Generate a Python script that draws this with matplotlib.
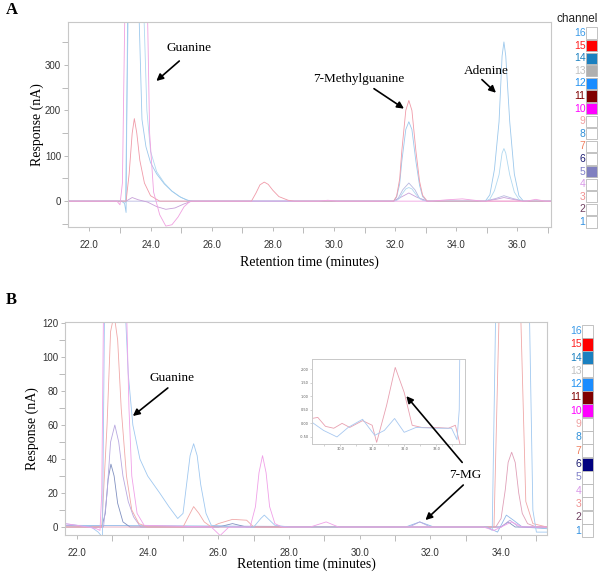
import numpy as np
import matplotlib
matplotlib.use('Agg')
import matplotlib.pyplot as plt
from matplotlib.patches import Rectangle

# ---- Panel A traces (retention time, response nA) ----
a_mag_t = [21.3, 22.9, 23.0, 23.08, 23.16, 23.9, 23.97, 24.1, 24.3, 24.5, 24.7, 24.9, 25.1, 25.3,
           29.5, 29.8, 30.1, 33.2, 33.7, 34.2, 34.85, 36.3, 36.6, 36.9, 37.1]
a_mag_y = [0, 0, -8, 40, 420, 420, 150, 20, -30, -55, -52, -35, -12, 0,
           0, 2, 0, 0, 3, 5, 0, 0, 4, 0, 0]

a_red_t = [21.3, 23.2, 23.3, 23.4, 23.47, 23.55, 23.65, 23.8, 24.0, 24.3,
           27.3, 27.45, 27.58, 27.72, 27.85, 28.0, 28.2, 28.5, 28.7,
           31.95, 32.05, 32.15, 32.22, 32.35, 32.45, 32.55, 32.68, 32.8, 32.9, 33.05, 37.1]
a_red_y = [0, 0, 60, 150, 182, 150, 90, 40, 12, 0,
           0, 18, 36, 42, 37, 24, 10, 2, 0,
           0, 11, 49, 111, 200, 222, 200, 111, 44, 13, 0, 0]

a_blue1_t = [21.3, 23.05, 23.15, 23.2, 23.25, 23.62, 23.72, 23.85, 24.0, 24.2, 24.45, 24.7, 24.95, 25.2, 25.4,
             31.95, 32.05, 32.15, 32.22, 32.35, 32.45, 32.55, 32.68, 32.8, 32.9, 33.05,
             34.95, 35.1, 35.25, 35.4, 35.5, 35.56, 35.62, 35.75, 35.9, 36.05, 36.2, 37.1]
a_blue1_y = [0, 0, -5, -25, 420, 420, 180, 120, 85, 60, 38, 22, 10, 2, 0,
             0, 9, 38, 88, 158, 175, 158, 88, 35, 10, 0,
             0, 14, 70, 175, 320, 351, 320, 175, 60, 12, 0, 0]

a_blue2_t = [21.3, 23.1, 23.18, 23.27, 23.78, 23.88, 24.0, 24.2, 24.45, 24.7, 25.0, 25.3,
             31.95, 32.05, 32.15, 32.22, 32.35, 32.45, 32.55, 32.68, 32.8, 32.9, 33.05,
             34.95, 35.1, 35.25, 35.4, 35.5, 35.56, 35.62, 35.75, 35.9, 36.05, 36.2, 37.1]
a_blue2_y = [0, 0, -3, 420, 420, 200, 110, 65, 40, 22, 8, 0,
             0, 1.5, 6.6, 15, 27, 30, 27, 15, 6, 1.8, 0,
             0, 4.6, 23, 58, 106, 116, 106, 58, 20, 4, 0, 0]

a_purp_t = [21.3, 23.2, 23.4, 23.6, 23.9, 24.2, 24.5, 24.8, 25.1, 25.35,
            31.95, 32.2, 32.45, 32.7, 33.05, 34.95, 35.3, 35.56, 35.85, 36.2, 37.1]
a_purp_y = [0, 0, 8, 3, -2, -12, -18, -15, -6, 0,
            0, 9, 18, 9, 0, 0, 4, 8, 4, 0, 0]

a_lav_t = [21.3, 31.95, 32.1, 32.25, 32.45, 32.65, 32.8, 33.05, 34.95, 35.3, 35.56, 35.85, 36.2, 37.1]
a_lav_y = [0, 0, 6, 25, 40, 25, 6, 0, 0, 6, 12, 6, 0, 0]

# ---- Panel B traces ----
b_mag_t = [21.66, 22.0, 22.3, 22.55, 22.65, 22.7, 22.75, 23.4, 23.47, 23.55, 23.7, 23.9,
           25.8, 26.05, 26.3, 26.9, 27.05, 27.15, 27.25, 27.35, 27.45, 27.6, 27.8,
           28.6, 29.05, 29.4, 30.5, 33.5, 33.8, 34.1, 34.3, 34.6, 35.3]
b_mag_y = [2, 1, 0, -1, -2, 20, 130, 130, 70, 30, 8, 1,
           0, -5, 0, 0, 12, 32, 42, 32, 12, 2, 0,
           0, 3, 0, 0, 0, -2, 1, 3, 0, 0]

b_blue_t = [21.66, 22.0, 22.4, 22.6, 22.72, 22.78, 23.36, 23.45, 23.58, 23.78, 24.0, 24.34, 24.6, 24.85,
            25.0, 25.1, 25.2, 25.3, 25.4, 25.5, 25.65, 25.8, 26.5, 27.0, 27.2, 27.3, 27.4, 27.6, 28.0,
            33.6, 33.75, 33.85, 34.8, 34.9, 35.0, 35.3]
b_blue_y = [2, 1, 0, -3, -6, 130, 130, 90, 60, 40, 30, 20, 12, 5,
            8, 25, 42, 49, 42, 25, 8, 1, 0, 0, 5, 7, 5, 1, 0,
            0, -2, 130, 130, 10, -3, -3]

b_red_t = [21.66, 22.7, 22.85, 22.95, 23.05, 23.15, 23.25, 23.4, 23.55, 23.75, 24.0,
           25.0, 25.15, 25.3, 25.45, 25.6, 25.8, 26.0, 26.4, 26.8, 27.0, 28.0,
           33.8, 33.95, 34.55, 34.7, 34.9, 35.3]
b_red_y = [0, 0, 60, 115, 125, 110, 70, 30, 10, 2, 0,
           0, 6, 12, 8, 3, 0, 2, 4.5, 4, 0, 0,
           0, 130, 130, 15, 2, 0]

b_lav_t = [21.66, 22.5, 22.75, 22.85, 22.95, 23.07, 23.18, 23.3, 23.45, 23.6, 23.8,
           31.4, 31.7, 32.0, 34.0, 34.25, 34.5, 35.3]
b_lav_y = [1, 0, 0, 20, 50, 60, 50, 30, 15, 6, 0,
           0, 3, 0, 0, 4, 0, 0]

b_dark_t = [21.66, 22.7, 22.8, 22.88, 22.96, 23.05, 23.15, 23.3, 23.5, 26.0, 26.4, 26.8,
            34.0, 34.2, 34.4, 35.3]
b_dark_y = [0, 0, 8, 28, 37, 30, 14, 3, 0, 0, 2, 0,
            0, 3, 0, 0]

b_pink_t = [21.66, 33.85, 34.0, 34.12, 34.2, 34.3, 34.4, 34.5, 34.6, 34.75, 35.0, 35.3]
b_pink_y = [0, 0, 5, 22, 38, 44, 38, 20, 8, 2, 0, 0]

b_blue2_t = [21.66, 31.3, 31.7, 32.1, 33.6, 33.9, 34.15, 34.35, 34.6, 35.3]
b_blue2_y = [1, 0, 3, 0, 0, -3, 7, 4, 0, -1]

# ---- Inset (zoom of 7-MG region, panel B) ----
in_red_t = [29.12, 29.3, 29.54, 29.8, 30.06, 30.3, 30.7, 31.0, 31.14, 31.45, 31.72, 32.0, 32.25,
            32.55, 33.0, 33.38, 33.6, 33.75]
in_red_y = [0.18, 0.22, -0.11, -0.18, 0.0, -0.15, 0.1, -0.07, -0.7, 0.66, 2.06, 1.14, -0.07,
            -0.15, -0.15, -0.18, -0.07, -0.8]
in_blue_t = [29.12, 29.48, 29.9, 30.25, 30.7, 31.08, 31.38, 31.7, 32.0, 32.37, 33.0, 33.48, 33.65,
             33.72, 33.74]
in_blue_y = [0.04, -0.26, -0.5, -0.15, 0.15, -0.44, -0.26, 0.18, -0.33, -0.15, -0.18, -0.18, -0.6,
             0.5, 3.0]

# ---- Channel legend ----
channels = list(range(16, 0, -1))
chan_colors = {16: '#3a9ae8', 15: '#ff2020', 14: '#1a80c0', 13: '#c0c0c0', 12: '#2090f0',
               11: '#800000', 10: '#ff00ff', 9: '#f0a0a0', 8: '#3090d8', 7: '#f08060',
               6: '#1a1a70', 5: '#8080c8', 4: '#d898e8', 3: '#f09090', 2: '#704060', 1: '#3090e0'}
fill_a = {15: '#ff0000', 14: '#1a80c0', 13: '#b0b0b0', 12: '#1a8cff', 11: '#800000',
          10: '#ff00ff', 5: '#8080c0'}
fill_b = {15: '#ff0000', 14: '#1a80c0', 12: '#1a8cff', 11: '#800000', 10: '#ff00ff',
          6: '#000080'}

W, H = 600, 573
fig = plt.figure(figsize=(6, 5.73), dpi=100)


def fx(px):
    return px / W


def fy(py):
    return 1 - py / H


serif = 'Liberation Serif'
sans = 'Liberation Sans'
frame = '#c8c8c8'


def style(ax, xmaj, xmin, ymaj, ymin):
    for s in ax.spines.values():
        s.set_color(frame)
        s.set_linewidth(0.8)
    ax.set_xticks(xmaj)
    ax.set_xticklabels(['%.1f' % v for v in xmaj])
    ax.set_xticks(xmin, minor=True)
    ax.set_yticks(ymaj)
    ax.set_yticks(ymin, minor=True)
    ax.tick_params(which='both', direction='out', color='#b0b0b0', labelsize=7,
                   labelcolor='#333333', width=0.6)
    ax.tick_params(which='major', length=3)
    ax.tick_params(axis='x', which='major', pad=6)
    ax.tick_params(axis='y', which='major', pad=2)
    ax.tick_params(which='minor', length=4)
    for lab in ax.get_xticklabels() + ax.get_yticklabels():
        lab.set_family(sans)


lw = 0.6
arr = dict(arrowstyle='-|>', color='black', lw=1.2, mutation_scale=10, shrinkA=0, shrinkB=0)


def arrow(ax, tail, head):
    ax.annotate('', xy=head, xytext=tail, arrowprops=arr)


def label(ax, x, y, s):
    ax.text(x, y, s, ha='center', va='center', family=serif, fontsize=9.5)


# Panel A
axA = fig.add_axes([fx(68), fy(227), fx(551) - fx(68), fy(22) - fy(227)])
axA.plot(a_lav_t, a_lav_y, color='#b8b8e0', lw=lw)
axA.plot(a_purp_t, a_purp_y, color='#c8a0d8', lw=lw)
axA.plot(a_blue2_t, a_blue2_y, color='#b0d8f0', lw=lw)
axA.plot(a_blue1_t, a_blue1_y, color='#9cc8ec', lw=lw)
axA.plot(a_red_t, a_red_y, color='#f09aa8', lw=lw)
axA.plot(a_mag_t, a_mag_y, color='#f0a0e0', lw=lw)
axA.set_xlim(21.3, 37.1)
axA.set_ylim(-57, 395)
style(axA, np.arange(22, 37, 2), np.arange(23, 38, 2), [0, 100, 200, 300], [-50, 50, 150, 250, 350])
axA.set_xlabel('Retention time (minutes)', family=serif, fontsize=10, labelpad=4)
axA.set_ylabel('Response (nA)', family=serif, fontsize=10)
axA.yaxis.set_label_coords(-0.049, 0.5)

label(axA, 25.27, 338, 'Guanine')
arrow(axA, (24.94, 309), (24.19, 265))
label(axA, 30.82, 270, '7-Methylguanine')
arrow(axA, (31.31, 248), (32.29, 204))
label(axA, 34.97, 287, 'Adenine')
arrow(axA, (34.84, 268), (35.3, 239))

# Panel B
axB = fig.add_axes([fx(65), fy(535), fx(547) - fx(65), fy(322) - fy(535)])
axB.plot(b_blue2_t, b_blue2_y, color='#90b8e8', lw=lw)
axB.plot(b_dark_t, b_dark_y, color='#8090c0', lw=lw)
axB.plot(b_lav_t, b_lav_y, color='#b8a8e0', lw=lw)
axB.plot(b_pink_t, b_pink_y, color='#e0a0b8', lw=lw)
axB.plot(b_red_t, b_red_y, color='#f0a8a8', lw=lw)
axB.plot(b_blue_t, b_blue_y, color='#a0c8f0', lw=lw)
axB.plot(b_mag_t, b_mag_y, color='#f0a0e8', lw=lw)
axB.set_xlim(21.66, 35.3)
axB.set_ylim(-4.7, 120.6)
style(axB, np.arange(22, 35, 2), np.arange(23, 36, 2), np.arange(0, 121, 20), np.arange(10, 120, 20))
axB.set_xlabel('Retention time (minutes)', family=serif, fontsize=10, labelpad=0)
axB.set_ylabel('Response (nA)', family=serif, fontsize=10)
axB.yaxis.set_label_coords(-0.054, 0.5)

label(axB, 24.68, 87.6, 'Guanine')
arrow(axB, (24.57, 81.8), (23.58, 65.3))
label(axB, 32.99, 30.6, '7-MG')
arrow(axB, (32.93, 24.7), (31.86, 4.1))

# Inset
axI = fig.add_axes([fx(312), fy(444), fx(465) - fx(312), fy(359) - fy(444)])
axI.patch.set_alpha(0)
axI.plot(in_red_t, in_red_y, color='#e8a0b0', lw=0.6)
axI.plot(in_blue_t, in_blue_y, color='#a8c8f0', lw=0.6)
axI.set_xlim(29.12, 33.9)
axI.set_ylim(-0.76, 2.37)
for s in axI.spines.values():
    s.set_color(frame)
    s.set_linewidth(0.7)
axI.set_xticks([30, 31, 32, 33])
axI.set_xticklabels(['30.0', '31.0', '32.0', '33.0'])
axI.set_xticks([29.5, 30.5, 31.5, 32.5, 33.5], minor=True)
axI.set_yticks([-0.5, 0, 0.5, 1.0, 1.5, 2.0])
axI.set_yticklabels(['-0.50', '0.00', '0.50', '1.00', '1.50', '2.00'])
axI.tick_params(which='both', direction='out', labelsize=2.5, length=1.5, width=0.4,
                color='#b0b0b0', labelcolor='#555555', pad=1)

# arrow from 7-MG label up into the inset peak, drawn above the inset
axI.annotate('', xy=(31.32, 77), xytext=(32.9, 38), xycoords=axB.transData,
             textcoords=axB.transData, arrowprops=arr, annotation_clip=False)

# Panel letters
fig.text(fx(6), fy(10), 'A', family=serif, fontsize=12, fontweight='bold', va='center')
fig.text(fx(6), fy(300), 'B', family=serif, fontsize=12, fontweight='bold', va='center')


# Channel legends
def legend(y_top, step, box_x, box_w, box_h, fills):
    for i, ch in enumerate(channels):
        yc = y_top + i * step
        fc = fills.get(ch, 'white')
        fig.patches.append(Rectangle((fx(box_x), fy(yc + box_h / 2)), box_w / W, box_h / H,
                                     transform=fig.transFigure, facecolor=fc,
                                     edgecolor='#b8b8b8', lw=0.6))
        fig.text(fx(box_x - 0.5), fy(yc), str(ch), ha='right', va='center', family=sans,
                 fontsize=7.5, color=chan_colors[ch])


fig.text(fx(577), fy(19), 'channel', ha='center', va='center', family=sans, fontsize=8.5,
         color='#222222')
legend(33, 12.6, 586, 11, 11, fill_a)
legend(331, 13.3, 582, 11, 13, fill_b)

fig.savefig('out.png', dpi=100)
